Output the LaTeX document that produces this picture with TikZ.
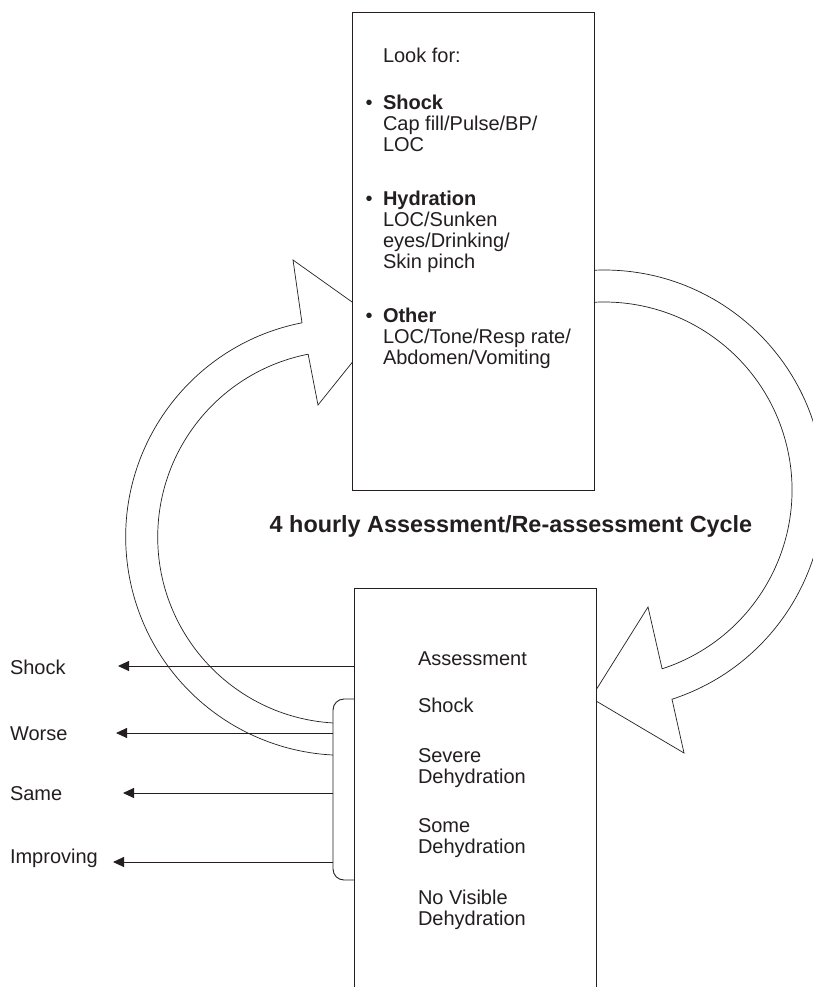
\documentclass[tikz,border=0pt]{standalone}
\usepackage{fontspec}
\setmainfont{Liberation Sans}
\usetikzlibrary{arrows.meta,calc}
\definecolor{ink}{HTML}{231F20}
\begin{document}
\begin{tikzpicture}[x=1pt,y=-1pt,
  every node/.style={inner sep=0pt,outer sep=0pt,text=ink},
  txt/.style={anchor=base west,font=\fontsize{20}{21}\selectfont},
  bld/.style={anchor=base west,font=\fontsize{20}{21}\selectfont\bfseries},
  bul/.style={anchor=base,font=\fontsize{20}{21}\selectfont},
  ttl/.style={anchor=base,font=\fontsize{23.4}{26}\selectfont\bfseries},
  box/.style={draw=ink,line width=0.9pt,fill=white},
  cyc/.style={draw=ink,line width=0.7pt,line join=miter},
  outarrow/.style={draw=ink,line width=0.9pt,-{Triangle[length=11pt,width=10pt]}}]
\useasboundingbox (0,0) rectangle (812,987);

% cycle arrows
\coordinate (Lc) at (344,537);
\coordinate (Rc) at (604,490);
\draw[cyc] ($(Lc)+(93.4:186.3)$) arc[start angle=93.4,end angle=258.9,radius=186.3]
  -- (318,405) -- (383,324) -- (293,260) -- ($(Lc)+(258.9:218.3)$)
  arc[start angle=258.9,end angle=92.9,radius=218.3];
\draw[cyc] ($(Rc)+(267.4:220)$) arc[start angle=267.4,end angle=432,radius=220]
  -- (684,753) -- (591,698) -- (648,607) -- ($(Rc)+(432:188)$)
  arc[start angle=432,end angle=266.95,radius=188];

% boxes
\node[box,anchor=north west,minimum width=242pt,minimum height=478pt] (topbox) at (352,12) {};
\node[box,anchor=north west,minimum width=242pt,minimum height=404pt] (botbox) at (354,588) {};

% top box text
\node[txt] (look) at (383,63) {Look for:};
\node[bul] (b1) at (369,110) {•};
\node[bld] (h1) at (383,110) {Shock};
\node[txt] (h1a) at (383,131) {Cap fill/Pulse/BP/};
\node[txt] (h1b) at (383,152) {LOC};
\node[bul] (b2) at (369,205) {•};
\node[bld] (h2) at (383,205) {Hydration};
\node[txt] (h2a) at (383,226) {LOC/Sunken};
\node[txt] (h2b) at (383,247) {eyes/Drinking/};
\node[txt] (h2c) at (383,268) {Skin pinch};
\node[bul] (b3) at (369,322) {•};
\node[bld] (h3) at (383,322) {Other};
\node[txt] (h3a) at (383,343) {LOC/Tone/Resp rate/};
\node[txt] (h3b) at (383,364) {Abdomen/Vomiting};

% title
\node[ttl] (title) at (511,532) {4 hourly Assessment/Re-assessment Cycle};

% bottom box text
\node[txt] (a0) at (418,665) {Assessment};
\node[txt] (a1) at (418,712) {Shock};
\node[txt] (a2) at (418,762) {Severe};
\node[txt] (a2b) at (418,783) {Dehydration};
\node[txt] (a3) at (418,832) {Some};
\node[txt] (a3b) at (418,853) {Dehydration};
\node[txt] (a4) at (418,904) {No Visible};
\node[txt] (a4b) at (418,925) {Dehydration};

% bracket
\coordinate (brT) at (354,699);
\coordinate (brB) at (354,880);
\draw[draw=ink,line width=0.9pt,rounded corners=11pt] (brT) -- (333,699) -- (333,880) -- (brB);

% outcome labels
\node[txt] (lS) at (10,674) {Shock};
\node[txt] (lW) at (10,740) {Worse};
\node[txt] (lM) at (10,800) {Same};
\node[txt] (lI) at (10,863) {Improving};

\coordinate (sS) at (354,666);
\coordinate (sW) at (333,733);
\coordinate (sM) at (333,793);
\coordinate (sI) at (333,862);
\coordinate (tS) at (118,666);
\coordinate (tW) at (116,733);
\coordinate (tM) at (123,793);
\coordinate (tI) at (113,862);
\draw[outarrow] (sS) -- (tS);
\draw[outarrow] (sW) -- (tW);
\draw[outarrow] (sM) -- (tM);
\draw[outarrow] (sI) -- (tI);
\end{tikzpicture}
\end{document}
